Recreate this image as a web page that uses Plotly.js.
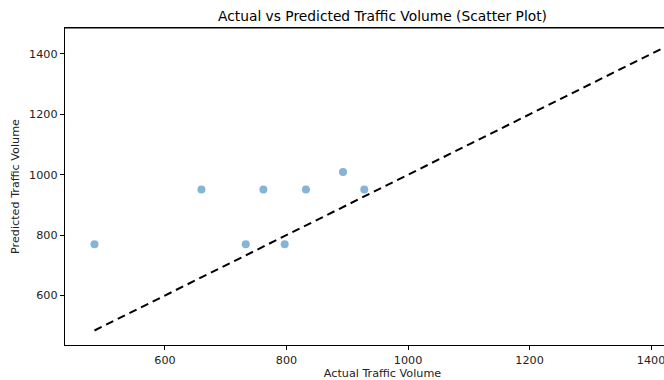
<!DOCTYPE html>
<html>
<head>
<meta charset="utf-8">
<script src="https://cdn.plot.ly/plotly-3.0.1.min.js"></script>
<style>
html,body{margin:0;padding:0;overflow:hidden;background:#fff;}
#chart{width:720px;height:380px;}
</style>
</head>
<body>
<div id="chart"></div>
<script>
const actual = [484, 660, 733, 762, 797, 832, 893, 928];
const predicted = [770, 951, 770, 951, 770, 951, 1009, 951];
const lineX = [484, 1433];
const lineY = [484, 1433];
const xTicks = [600, 800, 1000, 1200, 1400];
const yTicks = [600, 800, 1000, 1200, 1400];

const font = {family: 'DejaVu Sans', size: 11.2, color: '#222'};

const data = [
  {
    x: actual, y: predicted, type: 'scatter', mode: 'markers',
    marker: {color: 'rgba(31,119,180,0.55)', size: 8, line: {width: 0}},
    showlegend: false, hoverinfo: 'skip'
  },
  {
    x: lineX, y: lineY, type: 'scatter', mode: 'lines',
    line: {color: '#000', width: 2, dash: '8px,5px'},
    showlegend: false, hoverinfo: 'skip'
  }
];

const layout = {
  width: 720, height: 380,
  margin: {l: 65, r: 20, t: 28, b: 35},
  paper_bgcolor: '#fff', plot_bgcolor: '#fff',
  font: font,
  title: {text: 'Actual vs Predicted Traffic Volume (Scatter Plot)', font: {family: 'DejaVu Sans', size: 13.8, color: '#000'}, x: 0.5, xref: 'paper', y: 0.958, yref: 'container', yanchor: 'middle'},
  xaxis: {
    range: [435.5, 1480.5], tickvals: xTicks, ticktext: xTicks.map(String),
    showgrid: false, zeroline: false, showline: true, mirror: true, linecolor: '#000', linewidth: 1.2,
    ticks: 'outside', ticklen: 4, tickcolor: '#000', tickfont: font,
    title: {text: 'Actual Traffic Volume', font: {family: 'DejaVu Sans', size: 11.2, color: '#222'}, standoff: 6}
  },
  yaxis: {
    range: [436, 1486], tickvals: yTicks, ticktext: yTicks.map(String),
    showgrid: false, zeroline: false, showline: true, mirror: true, linecolor: '#000', linewidth: 1.2,
    ticks: 'outside', ticklen: 4, tickcolor: '#000', tickfont: font,
    title: {text: 'Predicted Traffic Volume', font: {family: 'DejaVu Sans', size: 11.2, color: '#222'}, standoff: 7}
  },
  shapes: [
    {type: 'line', xref: 'paper', yref: 'paper', x0: 0, x1: 1, y0: 1, y1: 1, line: {color: '#000', width: 1.2}}
  ]
};

Plotly.newPlot('chart', data, layout, {staticPlot: true, displayModeBar: false});
</script>
</body>
</html>
